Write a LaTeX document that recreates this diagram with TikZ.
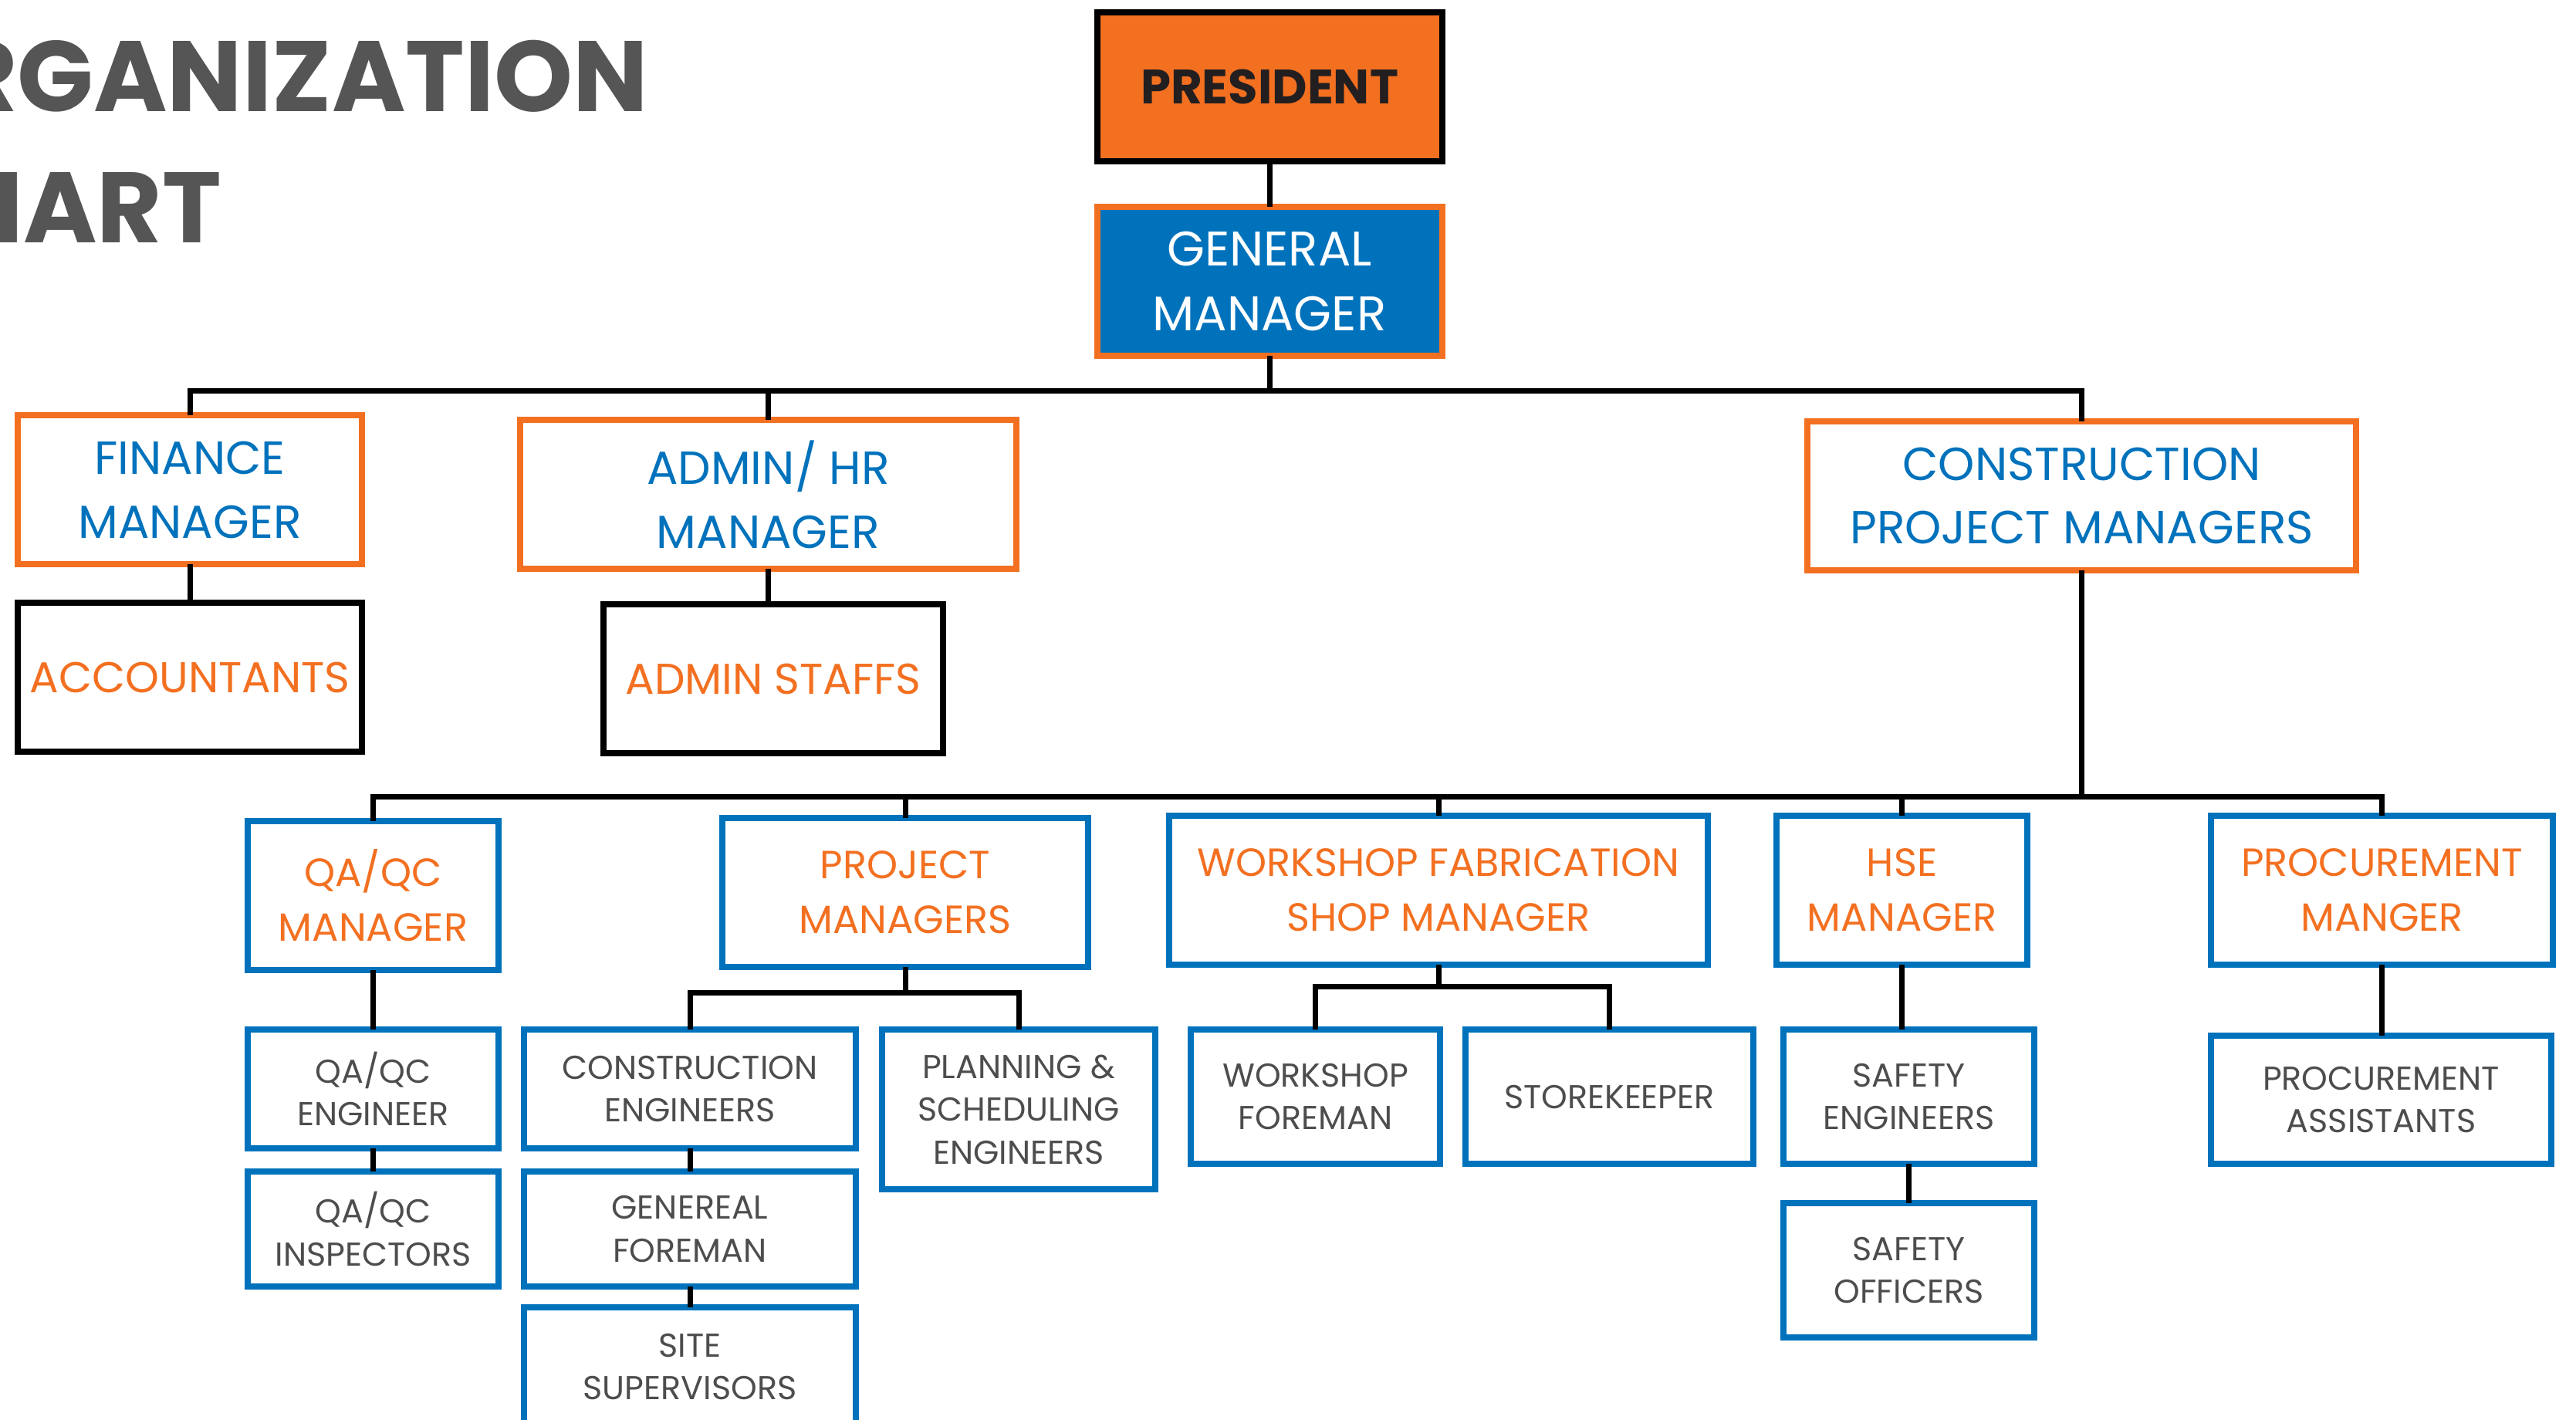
\documentclass[tikz,border=0pt]{standalone}
\usepackage{fontspec}
\setmainfont{Poppins}
\usetikzlibrary{positioning}
\definecolor{orgorange}{HTML}{F37021}
\definecolor{orgblue}{HTML}{0072BC}
\definecolor{orggray}{HTML}{4D4D4D}
\definecolor{titlegray}{HTML}{555555}
\definecolor{presink}{HTML}{231F20}

\begin{document}
\begin{tikzpicture}[
every node/.append style = {inner sep=0pt, outer sep=0pt, align=center},
   box/.style = {draw, line width=0.8mm, fill=white, minimum width=#1},
   top/.style = {box=4.47cm, minimum height=1.93cm},
  head/.style = {box=#1, draw=orgorange, text=orgblue, minimum height=1.93cm,
                 font=\fontsize{17.1}{23.6}\selectfont},
 crewx/.style = {box=#1, draw=black, text=orgorange, minimum height=1.93cm,
                 font=\fontsize{15.9}{20}\selectfont},
  lead/.style = {box=#1, draw=orgblue, text=orgorange, minimum height=1.93cm,
                 font=\fontsize{14.5}{20.2}\selectfont},
  crew/.style = {box=#1, draw=orgblue, text=orggray,
                 font=\fontsize{12.2}{15.8}\selectfont},
 title/.style = {text=titlegray, anchor=base east,
                 font=\fontsize{36.9}{40}\selectfont\bfseries},
  link/.style = {line width=0.7mm}
                    ]
\useasboundingbox (0,0) rectangle (33.38,-18.39);
%title
\node[title] (title1) at (8.40,-1.45) {ORGANIZATION};
\node[title] (title2) at (2.87,-3.14) {CHART};
%top
\node (pres) [top, fill=orgorange, draw=black, text=presink,
              font=\fontsize{17.8}{20}\selectfont\bfseries]
              at (16.45,-1.125) {PRESIDENT};
\node (gm)   [top, fill=orgblue, draw=orgorange, text=white,
              font=\fontsize{17.9}{23.9}\selectfont]
              at (16.45,-3.645) {GENERAL\\MANAGER};
%managers
\node (fin) [head=4.46cm] at (2.46,-6.345)  {FINANCE\\MANAGER};
\node (adm) [head=6.43cm] at (9.955,-6.405) {ADMIN/ HR\\MANAGER};
\node (cpm) [head=7.11cm] at (26.975,-6.425) {CONSTRUCTION\\PROJECT MANAGERS};
\node (acc) [crewx=4.46cm] at (2.46,-8.775) {ACCOUNTANTS};
\node (stf) [crewx=4.40cm] at (10.02,-8.795) {ADMIN STAFFS};
%site leads
\node (qam) [lead=3.25cm] at (4.835,-11.605) {QA/QC\\MANAGER};
\node (pm)  [lead=4.74cm] at (11.73,-11.56)  {PROJECT\\MANAGERS};
\node (wfm) [lead=6.98cm] at (18.64,-11.535) {WORKSHOP FABRICATION\\SHOP MANAGER};
\node (hse) [lead=3.25cm] at (24.645,-11.535) {HSE\\MANAGER};
\node (prm) [lead=4.43cm] at (30.865,-11.535) {PROCUREMENT\\MANGER};
%crews
\node (qae) [crew=3.25cm, minimum height=1.54cm] at (4.835,-14.11)  {QA/QC\\ENGINEER};
\node (qai) [crew=3.25cm, minimum height=1.49cm] at (4.835,-15.925) {QA/QC\\INSPECTORS};
\node (ce)  [crew=4.30cm, minimum height=1.54cm] at (8.94,-14.11)   {CONSTRUCTION\\ENGINEERS};
\node (gf)  [crew=4.30cm, minimum height=1.49cm] at (8.94,-15.925)  {GENEREAL\\FOREMAN};
\node (ss)  [crew=4.30cm, minimum height=1.54cm] at (8.94,-17.71)   {SITE\\SUPERVISORS};
\node (pse) [crew=3.54cm, minimum height=2.07cm] at (13.2,-14.375)  {PLANNING \&\\SCHEDULING\\ENGINEERS};
\node (wf)  [crew=3.23cm, minimum height=1.74cm] at (17.045,-14.21) {WORKSHOP\\FOREMAN};
\node (sk)  [crew=3.73cm, minimum height=1.74cm] at (20.855,-14.21) {STOREKEEPER};
\node (se)  [crew=3.25cm, minimum height=1.74cm] at (24.735,-14.21) {SAFETY\\ENGINEERS};
\node (so)  [crew=3.25cm, minimum height=1.74cm] at (24.735,-16.46) {SAFETY\\OFFICERS};
\node (pa)  [crew=4.41cm, minimum height=1.66cm] at (30.855,-14.25) {PROCUREMENT\\ASSISTANTS};
% links
\coordinate (bus1) at (0,-5.06);
\coordinate (bus2) at (0,-10.32);
\coordinate (bus3) at (0,-12.86);
\coordinate (bus4) at (0,-12.78);
\draw[link] (pres) -- (gm);
\draw[link] (gm.south) -- (gm.south |- bus1);
\draw[link] (fin.north) |- (bus1 -| cpm.north) -- (cpm.north);
\draw[link] (adm.north) -- (adm.north |- bus1);
\draw[link] (fin) -- (acc);
\draw[link] (adm.south) -- (adm.south |- stf.north);
\draw[link] (cpm.south) -- (cpm.south |- bus2);
\draw[link] (qam.north) |- (bus2 -| prm.north) -- (prm.north);
\foreach \n in {pm, wfm, hse}
  \draw[link] (\n.north) -- (\n.north |- bus2);
\draw[link] (qam) -- (qae);
\draw[link] (qae) -- (qai);
\draw[link] (pm.south) -- (pm.south |- bus3);
\draw[link] (ce.north) |- (bus3 -| pse.north) -- (pse.north);
\draw[link] (ce) -- (gf);
\draw[link] (gf) -- (ss);
\draw[link] (wfm.south) -- (wfm.south |- bus4);
\draw[link] (wf.north) |- (bus4 -| sk.north) -- (sk.north);
\draw[link] (hse.south) -- (hse.south |- se.north);
\draw[link] (se) -- (so);
\draw[link] (prm.south) -- (prm.south |- pa.north);
\end{tikzpicture}
\end{document}
